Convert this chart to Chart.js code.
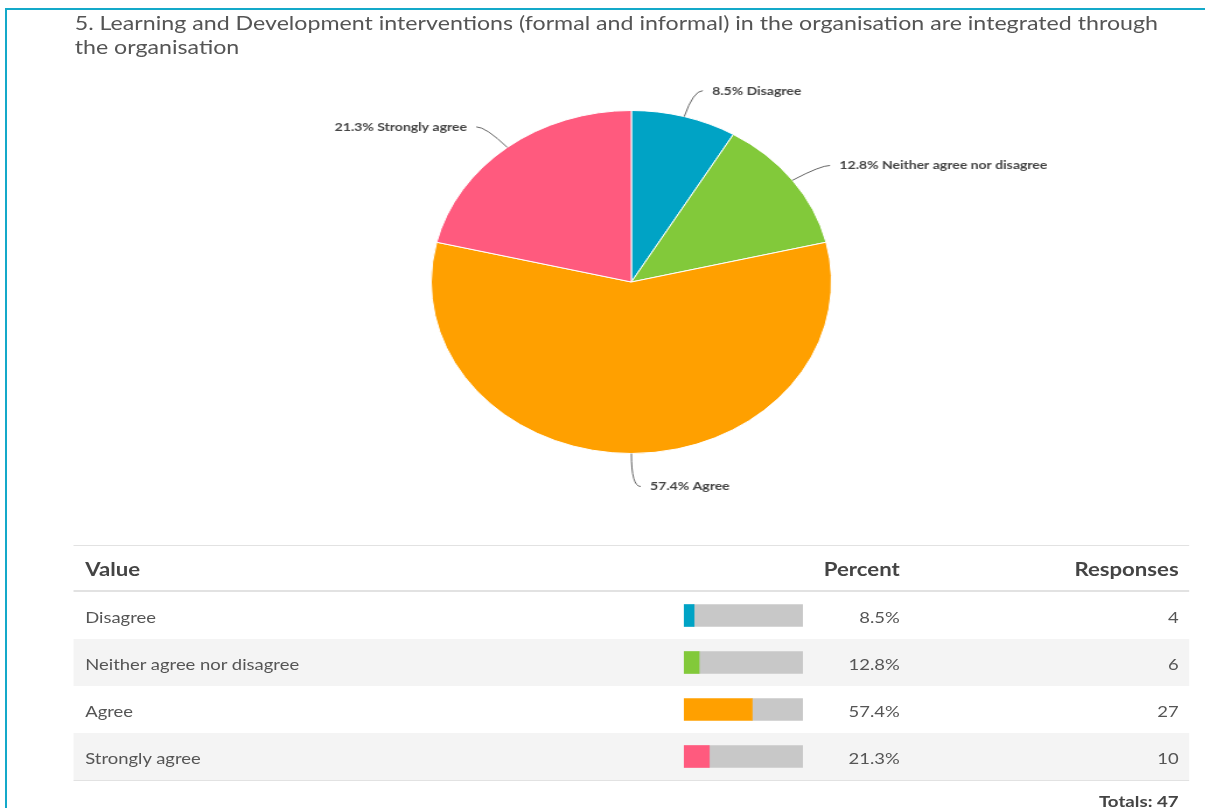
<!DOCTYPE html>
<html>
<head>
<meta charset="utf-8">
<script src="https://cdn.jsdelivr.net/npm/chart.js@4.4.0/dist/chart.umd.min.js"></script>
<style>
  html, body { margin: 0; padding: 0; background: #fff; overflow: hidden; }
  body { width: 1205px; height: 808px; position: relative; font-family: Lato, "Open Sans", sans-serif; color: #555; }
  #frame { position: absolute; left: 5px; top: 8px; width: 1200px; height: 800px;
           border-top: 2px solid #14a9c9; border-left: 2px solid #14a9c9; }
  /* content is laid out narrow and stretched sideways */
  #page { position: absolute; left: 0; top: 0; width: 1033px; height: 808px;
          transform: scaleX(1.167); transform-origin: 0 0; }
  #title { position: absolute; left: 64px; top: 10px; font-size: 19.87px; line-height: 24px;
           white-space: nowrap; color: #555; }
  #pieWrap { position: absolute; left: 141px; top: 62px; width: 800px; height: 440px; }
  #table { position: absolute; left: 63px; top: 545px; width: 956px; }
  .hline { position: absolute; left: 0; width: 956px; background: #e2e2e2; }
  .cell { position: absolute; white-space: nowrap; transform: translateY(-50%); }
  .head { font-weight: bold; font-size: 19px; color: #444; }
  .body { font-size: 15.8px; color: #555; }
  .row { position: absolute; left: 0; width: 956px; height: 47px; }
  #barWrap { position: absolute; left: 523px; top: 47px; width: 102px; height: 188px; }
</style>
</head>
<body>
<div id="frame"></div>
<div id="page">
  <div id="title">5. Learning and Development interventions (formal and informal) in the organisation are integrated through<br>the organisation</div>
  <div id="pieWrap"><canvas id="pie"></canvas></div>
  <div id="table"></div>
</div>
<script>
const categories = ["Disagree", "Neither agree nor disagree", "Agree", "Strongly agree"];
const responses = [4, 6, 27, 10];
const sliceColors = ["#00a3c5", "#82c93a", "#ffa000", "#ff5a7e"];

const total = responses.reduce((a, b) => a + b, 0);
const percents = responses.map(r => Math.round(r / total * 1000) / 10);

// Outside labels with curved leader lines
const pieLabels = {
  id: 'pieLabels',
  afterDatasetsDraw(chart) {
    const ctx = chart.ctx;
    const meta = chart.getDatasetMeta(0);
    ctx.save();
    ctx.font = 'bold 12px Lato';
    ctx.textBaseline = 'middle';
    meta.data.forEach((arc, i) => {
      const p = arc.getProps(['x', 'y', 'startAngle', 'endAngle', 'outerRadius'], true);
      const mid = (p.startAngle + p.endAngle) / 2;
      const cos = Math.cos(mid), sin = Math.sin(mid);
      const right = cos >= -1e-6;
      const r = p.outerRadius;
      const ly = p.y + (r + 30) * sin + 3;
      const ex = p.x + (r + 30) * cos;
      ctx.beginPath();
      ctx.moveTo(p.x + r * cos, p.y + r * sin);
      ctx.quadraticCurveTo(ex, ly, ex + (right ? 8 : -8), ly);
      ctx.strokeStyle = '#666';
      ctx.lineWidth = 1;
      ctx.stroke();
      ctx.fillStyle = '#444';
      ctx.textAlign = right ? 'left' : 'right';
      ctx.fillText(percents[i].toFixed(1) + '% ' + categories[i], ex + (right ? 16 : -16), ly);
    });
    ctx.restore();
  }
};

new Chart(document.getElementById('pie'), {
  type: 'pie',
  data: {
    labels: categories,
    datasets: [{
      data: responses,
      backgroundColor: sliceColors,
      borderColor: '#fff',
      borderWidth: 1
    }]
  },
  options: {
    responsive: true,
    maintainAspectRatio: false,
    animation: false,
    layout: { padding: { top: 48, bottom: 48, left: 228, right: 228 } },
    plugins: { legend: { display: false }, tooltip: { enabled: false } }
  },
  plugins: [pieLabels]
});

// Results table
const table = document.getElementById('table');
let html = '';
html += '<div class="hline" style="top:0;height:1px"></div>';
html += '<div class="cell head" style="left:10px;top:23px">Value</div>';
html += '<div class="cell head" style="right:248px;top:23px">Percent</div>';
html += '<div class="cell head" style="right:9px;top:23px">Responses</div>';
html += '<div class="hline" style="top:45px;height:2px"></div>';
categories.forEach((c, i) => {
  const top = 47 + i * 47;
  const bg = i % 2 ? '#f4f4f4' : '#fff';
  html += `<div class="row" style="top:${top}px;background:${bg}"></div>`;
  html += `<div class="cell body" style="left:10px;top:${top + 24}px">${c}</div>`;
  html += `<div class="cell body" style="right:248px;top:${top + 24}px">${percents[i].toFixed(1)}%</div>`;
  html += `<div class="cell body" style="right:9px;top:${top + 24}px">${responses[i]}</div>`;
});
html += '<div class="hline" style="top:235px;height:1px"></div>';
html += '<div class="cell head" style="right:9px;top:255px;font-size:16px">Totals: ' + total + '</div>';
html += '<div id="barWrap"><canvas id="bars"></canvas></div>';
table.innerHTML = html;

new Chart(document.getElementById('bars'), {
  type: 'bar',
  data: {
    labels: categories,
    datasets: [
      { data: percents, backgroundColor: sliceColors, barThickness: 22, borderWidth: 0 },
      { data: percents.map(p => 100 - p), backgroundColor: '#c8c8c8', barThickness: 22, borderWidth: 0 }
    ]
  },
  options: {
    indexAxis: 'y',
    responsive: true,
    maintainAspectRatio: false,
    animation: false,
    layout: { padding: 0 },
    plugins: { legend: { display: false }, tooltip: { enabled: false } },
    scales: {
      x: { stacked: true, min: 0, max: 100, display: false },
      y: { stacked: true, display: false }
    }
  }
});
</script>
</body>
</html>
